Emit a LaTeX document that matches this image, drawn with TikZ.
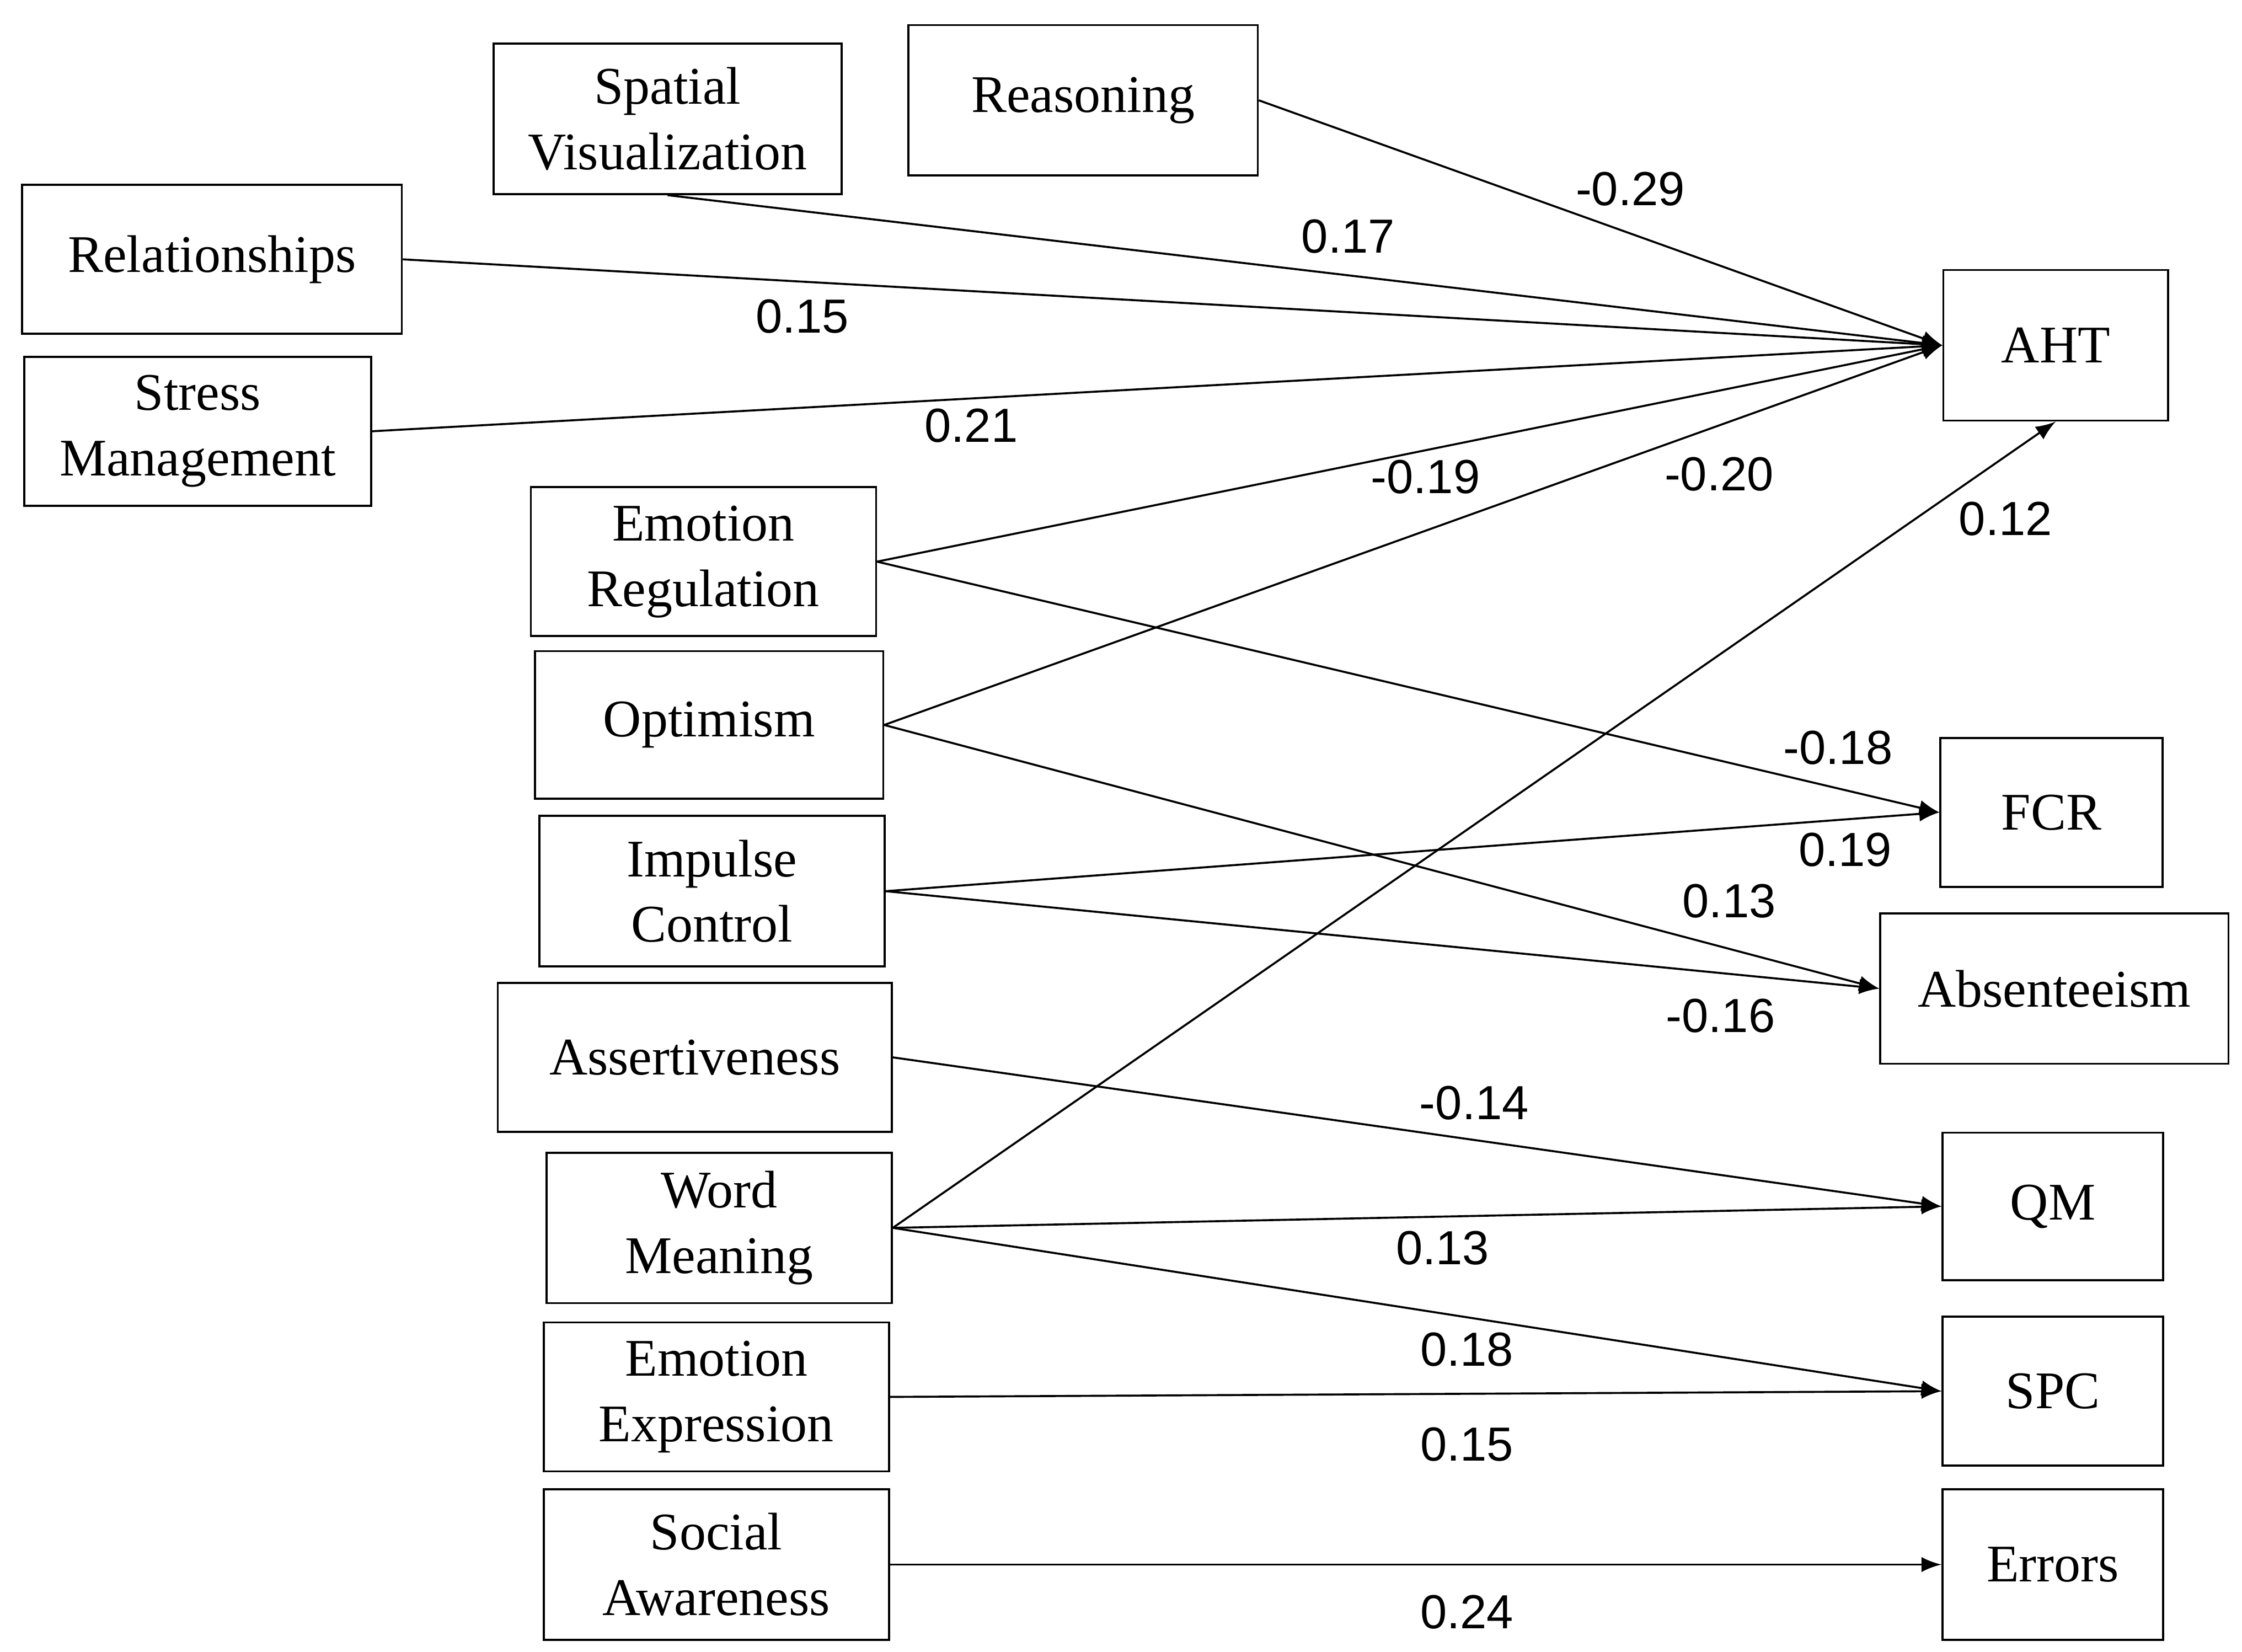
\documentclass[tikz,border=0pt]{standalone}
\usepackage{fontspec}
\setmainfont{Liberation Serif}
\newfontfamily\numfont{Liberation Sans}
\usetikzlibrary{arrows}
\tikzset{
  box/.style = {draw, thin, rectangle, align=center, inner sep=0pt, font=\fontsize{10.5}{13}\selectfont},
  line/.style = {->, thin, color=black, >=latex},
  coef/.style = {font=\numfont\fontsize{9.5}{11}\selectfont}
}
\newcommand{\bx}[6]{\node[box, minimum width=#3*0.01cm, minimum height=#4*0.01cm] (#5) at (#1,#2) {#6};}
\begin{document}
\begin{tikzpicture}[x=0.01cm, y=-0.01cm]
    \useasboundingbox (0,0) rectangle (1565,1153);
    % predictors
    \bx{466}{83}{243}{105}{spatial}{Spatial\\Visualization}
    \bx{756}{70}{244}{105}{reason}{Reasoning}
    \bx{148}{181}{265}{104}{relat}{Relationships}
    \bx{138}{301}{242}{104}{stress}{Stress\\Management}
    \bx{491}{392}{241}{104}{emoreg}{Emotion\\Regulation}
    \bx{495}{506}{243}{103}{optim}{Optimism}
    \bx{497}{622}{241}{105}{impulse}{Impulse\\Control}
    \bx{485}{738}{275}{104}{assert}{Assertiveness}
    \bx{502}{857}{241}{105}{word}{Word\\Meaning}
    \bx{500}{975}{241}{104}{emoexp}{Emotion\\Expression}
    \bx{500}{1092}{241}{105}{social}{Social\\Awareness}
    % outcomes
    \bx{1435}{241}{157}{105}{aht}{AHT}
    \bx{1432}{567}{155}{104}{fcr}{FCR}
    \bx{1434}{690}{243}{105}{absent}{Absenteeism}
    \bx{1433}{842}{154}{103}{qm}{QM}
    \bx{1433}{971}{154}{104}{spc}{SPC}
    \bx{1433}{1092}{154}{105}{errors}{Errors}

    \draw[line] (reason.east) -- (aht.west);
    \draw[line] (spatial.south) -- (aht.west);
    \draw[line] (relat.east) -- (aht.west);
    \draw[line] (stress.east) -- (aht.west);
    \draw[line] (emoreg.east) -- (aht.west);
    \draw[line] (optim.east) -- (aht.west);
    \draw[line] (word.east) -- (aht.south);
    \draw[line] (emoreg.east) -- (fcr.west);
    \draw[line] (impulse.east) -- (fcr.west);
    \draw[line] (optim.east) -- (absent.west);
    \draw[line] (impulse.east) -- (absent.west);
    \draw[line] (assert.east) -- (qm.west);
    \draw[line] (word.east) -- (qm.west);
    \draw[line] (word.east) -- (spc.west);
    \draw[line] (emoexp.east) -- (spc.west);
    \draw[line] (social.east) -- (errors.west);

    % coefficients
    \node[coef] (c1) at (1138,132) {-0.29};
    \node[coef] (c2) at (941,165) {0.17};
    \node[coef] (c3) at (560,221) {0.15};
    \node[coef] (c4) at (678,297) {0.21};
    \node[coef] (c5) at (995,333) {-0.19};
    \node[coef] (c6) at (1200,331) {-0.20};
    \node[coef] (c7) at (1400,362) {0.12};
    \node[coef] (c8) at (1283,522) {-0.18};
    \node[coef] (c9) at (1288,593) {0.19};
    \node[coef] (c10) at (1207,629) {0.13};
    \node[coef] (c11) at (1201,709) {-0.16};
    \node[coef] (c12) at (1029,770) {-0.14};
    \node[coef] (c13) at (1007,871) {0.13};
    \node[coef] (c14) at (1024,942) {0.18};
    \node[coef] (c15) at (1024,1008) {0.15};
    \node[coef] (c16) at (1024,1125) {0.24};
\end{tikzpicture}
\end{document}
